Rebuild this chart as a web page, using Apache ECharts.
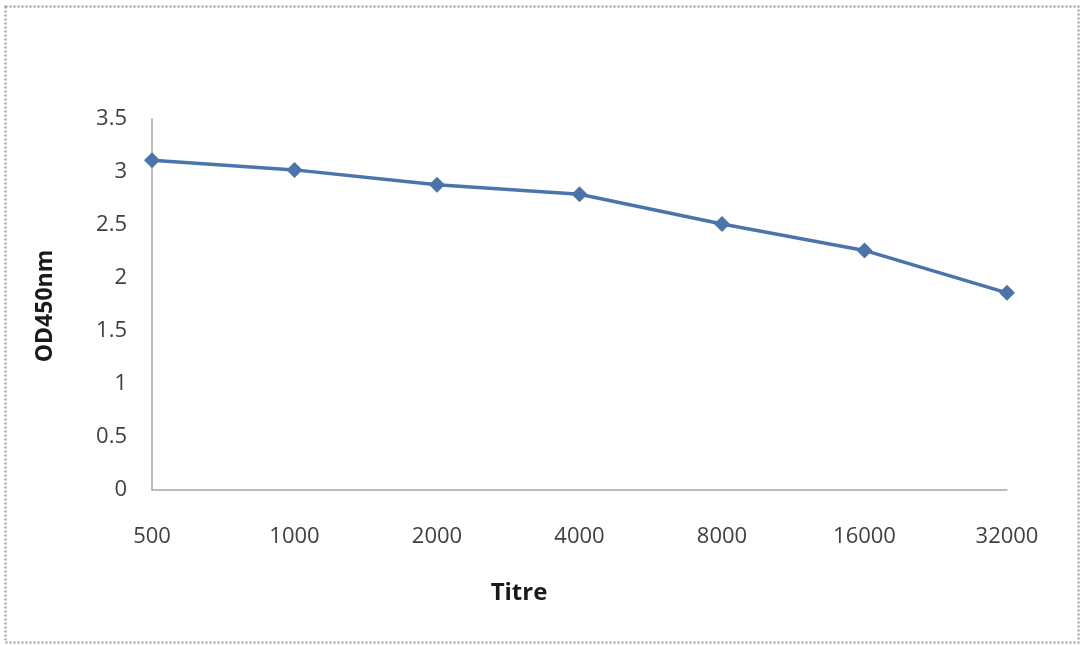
<!DOCTYPE html>
<html>
<head>
<meta charset="utf-8">
<script src="https://cdn.jsdelivr.net/npm/echarts@6/dist/echarts.min.js"></script>
<style>
html,body{margin:0;padding:0;background:#fff;}
#c{width:1080px;height:645px;}
</style>
</head>
<body>
<div id="c"></div>
<script>
const categories = ['500','1000','2000','4000','8000','16000','32000'];
const odValues = [3.11, 3.02, 2.88, 2.79, 2.51, 2.26, 1.86];
const yTicks = [0, 0.5, 1, 1.5, 2, 2.5, 3, 3.5];

const chart = echarts.init(document.getElementById('c'));
chart.setOption({
  animation: false,
  backgroundColor: '#ffffff',
  grid: { left: 152, top: 119, right: 73, bottom: 155, containLabel: false },
  xAxis: {
    type: 'category',
    data: categories,
    boundaryGap: false,
    axisLine: { lineStyle: { color: '#a6a6a6', width: 1.5 } },
    axisTick: { show: false },
    axisLabel: { margin: 36, fontFamily: 'Open Sans', fontSize: 22, color: '#404040' },
    splitLine: { show: false }
  },
  yAxis: {
    type: 'value',
    min: 0, max: 3.5, interval: 0.5,
    axisLine: { show: true, lineStyle: { color: '#a6a6a6', width: 1.5 } },
    axisTick: { show: false },
    axisLabel: { margin: 25, fontFamily: 'Open Sans', fontSize: 22, color: '#404040',
      formatter: v => yTicks.includes(v) ? String(v) : '' },
    splitLine: { show: false }
  },
  graphic: [
    { type: 'rect', left: 3, top: 4, shape: { width: 1073, height: 636 },
      style: { fill: 'none', stroke: '#9a9a9a', lineWidth: 2, lineDash: [2, 2] } },
    { type: 'text', x: 45, y: 306, rotation: Math.PI / 2, style: { text: 'OD450nm', fontFamily: 'Open Sans', fontWeight: 'bold', fontSize: 23, fill: '#1a1a1a', align: 'center', verticalAlign: 'middle' } },
    { type: 'text', x: 519, y: 593, style: { text: 'Titre', fontFamily: 'Open Sans', fontWeight: 'bold', fontSize: 24, fill: '#1a1a1a', align: 'center', verticalAlign: 'middle' } }
  ],
  series: [{
    type: 'line',
    data: odValues,
    symbol: 'diamond',
    symbolSize: 16,
    lineStyle: { color: '#4a74aa', width: 3.5 },
    itemStyle: { color: '#4a74aa' }
  }]
});
</script>
</body>
</html>
